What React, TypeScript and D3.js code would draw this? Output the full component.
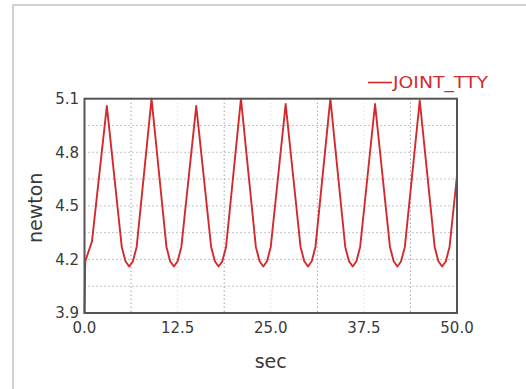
import React from "react";
import * as d3 from "d3";

const times = [0, 0.1, 1, 2, 3, 4, 5, 5.5, 6, 6.5, 7, 8, 9, 10, 11, 11.5, 12, 12.5, 13, 14, 15, 16, 17, 17.5, 18, 18.5, 19, 20, 21, 22, 23, 23.5, 24, 24.5, 25, 26, 27, 28, 29, 29.5, 30, 30.5, 31, 32, 33, 34, 35, 35.5, 36, 36.5, 37, 38, 39, 40, 41, 41.5, 42, 42.5, 43, 44, 45, 46, 47, 47.5, 48, 48.5, 49, 50];
const force = [3.9, 4.19, 4.3, 4.68, 5.06, 4.665, 4.27, 4.19, 4.16, 4.19, 4.27, 4.685, 5.1, 4.685, 4.27, 4.19, 4.16, 4.19, 4.27, 4.665, 5.06, 4.665, 4.27, 4.19, 4.16, 4.19, 4.27, 4.685, 5.1, 4.685, 4.27, 4.19, 4.16, 4.19, 4.27, 4.67, 5.07, 4.67, 4.27, 4.19, 4.16, 4.19, 4.27, 4.685, 5.1, 4.685, 4.27, 4.19, 4.16, 4.19, 4.27, 4.67, 5.07, 4.67, 4.27, 4.19, 4.16, 4.19, 4.27, 4.68, 5.09, 4.68, 4.27, 4.19, 4.16, 4.19, 4.27, 4.67];

const xTicks = [0, 12.5, 25, 37.5, 50];
const xMinorGrid = [6.25, 18.75, 31.25, 43.75];
const yTicks = [3.9, 4.2, 4.5, 4.8, 5.1];
const yGrid = [4.05, 4.2, 4.35, 4.5, 4.65, 4.8, 4.95];
const seriesName = "JOINT_TTY";
const xLabel = "sec";
const yLabel = "newton";

const W = 526, H = 389;
const L = 84.5, R = 457, T = 98.7, B = 313;

export default function App() {
  const x = d3.scaleLinear().domain([0, 50]).range([L, R]);
  const y = d3.scaleLinear().domain([3.9, 5.1]).range([B, T]);
  const pts = times.map((t, i) => [t, force[i]] as [number, number]);
  const line = d3.line<[number, number]>().x(d => x(d[0])).y(d => y(d[1]));
  const font = "'DejaVu Sans', Verdana, sans-serif";
  const red = "#d42a2e";
  return (
    <svg width={W} height={H} style={{ position: "absolute", left: 0, top: 0, background: "#fff" }}>
      <rect x={0} y={0} width={W} height={H} fill="#fff" />
      <rect x={13} y={5} width={W} height={H} fill="none" stroke="#d2d2d2" strokeWidth={2} />
      {xTicks.slice(1, -1).map(v => (
        <line key={"xg" + v} x1={x(v)} x2={x(v)} y1={T} y2={B} stroke="#d6d6d6" strokeWidth={1} strokeDasharray="1,3" />
      ))}
      {xMinorGrid.map(v => (
        <line key={"xm" + v} x1={x(v)} x2={x(v)} y1={T} y2={B} stroke="#777" strokeWidth={1} strokeDasharray="1,3" />
      ))}
      {yGrid.map(v => (
        <line key={"yg" + v} x1={L} x2={R} y1={y(v)} y2={y(v)} stroke="#888" strokeWidth={1} strokeDasharray="1,3" />
      ))}
      <path d={line(pts) || ""} fill="none" stroke={red} strokeWidth={1.9} strokeLinejoin="round" />
      <rect x={L} y={T} width={R - L} height={B - T} fill="none" stroke="#555" strokeWidth={2} />
      {yTicks.map(v => (
        <text key={"yt" + v} x={79} y={y(v)} dy="0.36em" textAnchor="end" fontFamily={font} fontSize={15} fill="#3a3a3a">
          {v.toFixed(1)}
        </text>
      ))}
      {xTicks.map(v => (
        <text key={"xt" + v} x={x(v)} y={333} textAnchor="middle" fontFamily={font} fontSize={15} fill="#3a3a3a">
          {v.toFixed(1)}
        </text>
      ))}
      <text x={(L + R) / 2} y={368} textAnchor="middle" fontFamily={font} fontSize={19} fill="#3a3a3a">{xLabel}</text>
      <text transform={`translate(42,${(T + B) / 2 + 2}) rotate(-90)`} textAnchor="middle" fontFamily={font} fontSize={19} fill="#3a3a3a">{yLabel}</text>
      <line x1={368} x2={392} y1={82.5} y2={82.5} stroke={red} strokeWidth={1.6} />
      <text x={393} y={88} fontFamily={font} fontSize={15} fill={red} textLength={95} lengthAdjust="spacingAndGlyphs">{seriesName}</text>
    </svg>
  );
}
